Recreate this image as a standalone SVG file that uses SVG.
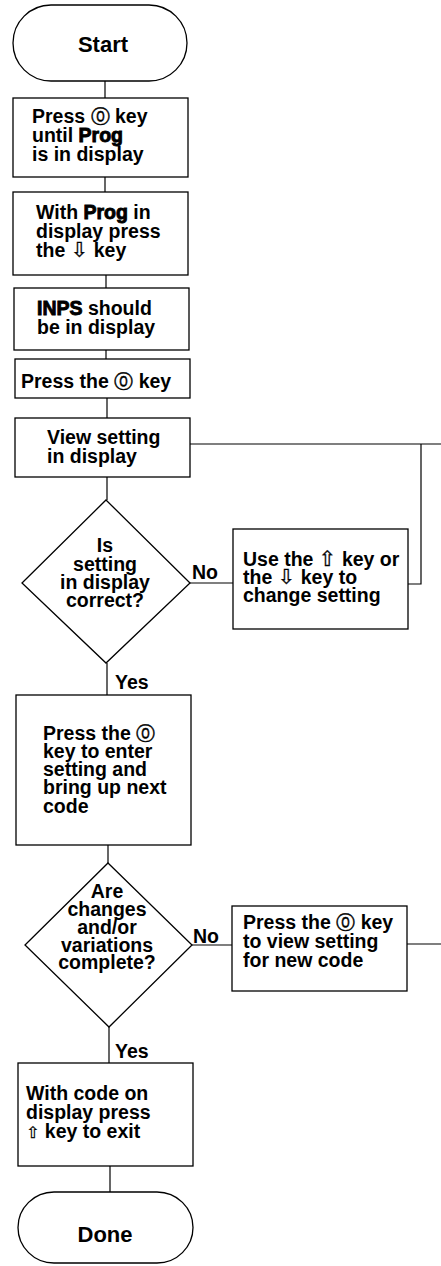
<svg xmlns="http://www.w3.org/2000/svg" width="441" height="1266" viewBox="0 0 441 1266">
<style>
.n{fill:#fff;stroke:#000;stroke-width:1.3}
.c{fill:none;stroke:#000;stroke-width:1.2}
text{font-family:"Liberation Sans",Arial,Helvetica,sans-serif;font-size:19.5px;font-weight:bold;fill:#000}
.m{text-anchor:middle}
.t{font-size:22px}
.k{font-family:"DejaVu Sans",sans-serif;font-weight:normal;font-size:19px;stroke:#000;stroke-width:0.4}
.a{font-family:"DejaVu Sans",sans-serif;font-weight:normal;font-size:21px;stroke:#000;stroke-width:0.3}
.s{font-family:"DejaVu Sans",sans-serif;font-weight:normal;font-size:16px;stroke:#000;stroke-width:0.3}
.b{stroke:#000;stroke-width:0.9}
</style>
<rect width="441" height="1266" fill="#fff"/>
<g id="connectors">
<path class="c" d="M105,81V98"/>
<path class="c" d="M105,177V192"/>
<path class="c" d="M106,275V288"/>
<path class="c" d="M106,350V359"/>
<path class="c" d="M107,398V418"/>
<path class="c" d="M107,477V500"/>
<path class="c" d="M190,444H441"/>
<path class="c" d="M421,444V584H408"/>
<path class="c" d="M190,583H233"/>
<path class="c" d="M107,663V695"/>
<path class="c" d="M108,845V863"/>
<path class="c" d="M192,945H232"/>
<path class="c" d="M407,944H441"/>
<path class="c" d="M109,1027V1063"/>
<path class="c" d="M110,1166V1192"/>
<text x="192" y="579">No</text>
<text x="115" y="689">Yes</text>
<text x="193" y="943">No</text>
<text x="115" y="1058">Yes</text>
</g>
<g id="start">
<rect class="n" x="13" y="5" width="174" height="76" rx="38" ry="38"/>
<text class="m t" x="103" y="52">Start</text>
</g>
<g id="step1">
<rect class="n" x="13" y="98" width="175" height="79"/>
<text x="32" y="123">Press <tspan class="k">⓪</tspan> key</text>
<text x="32" y="142">until <tspan class="b">Prog</tspan></text>
<text x="32" y="161">is in display</text>
</g>
<g id="step2">
<rect class="n" x="13" y="192" width="175" height="83"/>
<text x="36" y="219">With <tspan class="b">Prog</tspan> in</text>
<text x="36" y="238">display press</text>
<text x="36" y="257">the <tspan class="a">⇩</tspan> key</text>
</g>
<g id="step3">
<rect class="n" x="14" y="288" width="175" height="62"/>
<text x="37" y="315"><tspan class="b">INPS</tspan> should</text>
<text x="37" y="334">be in display</text>
</g>
<g id="step4">
<rect class="n" x="15" y="359" width="175" height="39"/>
<text x="21" y="388">Press the <tspan class="k">⓪</tspan> key</text>
</g>
<g id="view">
<rect class="n" x="15" y="418" width="175" height="59"/>
<text x="47" y="444">View setting</text>
<text x="47" y="463">in display</text>
</g>
<g id="decision1">
<polygon class="n" points="106,500 190,583 106,663 22,583"/>
<text class="m" x="105" y="552">Is</text>
<text class="m" x="105" y="571">setting</text>
<text class="m" x="105" y="589">in display</text>
<text class="m" x="105" y="607">correct?</text>
</g>
<g id="change">
<rect class="n" x="233" y="529" width="175" height="100"/>
<text x="243" y="566">Use the <tspan class="a">⇧</tspan> key or</text>
<text x="243" y="584">the <tspan class="a">⇩</tspan> key to</text>
<text x="243" y="602">change setting</text>
</g>
<g id="enter">
<rect class="n" x="16" y="695" width="175" height="150"/>
<text x="43" y="740">Press the <tspan class="k">⓪</tspan></text>
<text x="43" y="758">key to enter</text>
<text x="43" y="776">setting and</text>
<text x="43" y="794">bring up next</text>
<text x="43" y="813">code</text>
</g>
<g id="decision2">
<polygon class="n" points="108,863 192,945 109,1027 25,945"/>
<text class="m" x="107" y="898">Are</text>
<text class="m" x="107" y="916">changes</text>
<text class="m" x="107" y="934">and/or</text>
<text class="m" x="107" y="952">variations</text>
<text class="m" x="107" y="969">complete?</text>
</g>
<g id="next">
<rect class="n" x="232" y="906" width="175" height="85"/>
<text x="243" y="929">Press the <tspan class="k">⓪</tspan> key</text>
<text x="243" y="948">to view setting</text>
<text x="243" y="967">for new code</text>
</g>
<g id="exit">
<rect class="n" x="18" y="1063" width="175" height="103"/>
<text x="26" y="1100">With code on</text>
<text x="26" y="1119">display press</text>
<text x="26" y="1138"><tspan class="s">⇧</tspan> key to exit</text>
</g>
<g id="done">
<rect class="n" x="18" y="1192" width="175" height="71" rx="36" ry="36"/>
<text class="m t" x="105" y="1242">Done</text>
</g>
</svg>
